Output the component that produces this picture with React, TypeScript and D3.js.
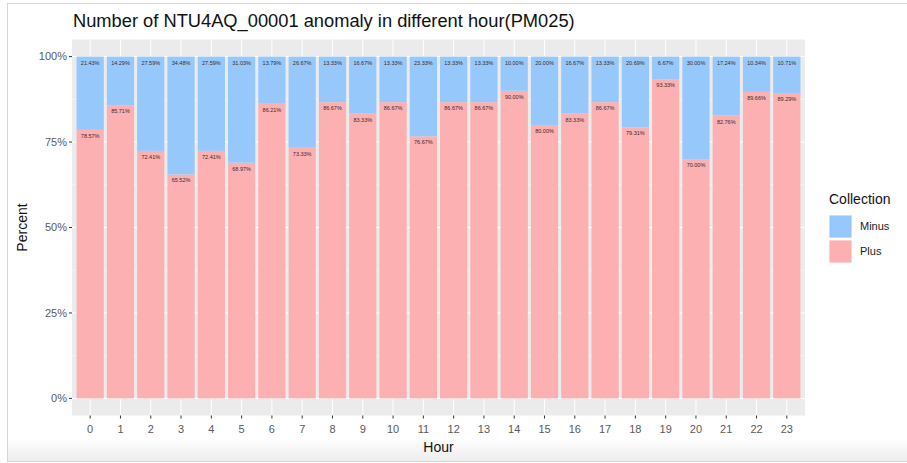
import * as d3 from "d3";
import React, { useEffect, useRef } from "react";

// hours on the x axis
const hours = [
  "0", "1", "2", "3", "4", "5", "6", "7", "8", "9", "10", "11",
  "12", "13", "14", "15", "16", "17", "18", "19", "20", "21", "22", "23",
];

// share of "Plus" per hour (%)
const plusPct = [
  78.57, 85.71, 72.41, 65.52, 72.41, 68.97, 86.21, 73.33, 86.67, 83.33, 86.67, 76.67,
  86.67, 86.67, 90.0, 80.0, 83.33, 86.67, 79.31, 93.33, 70.0, 82.76, 89.66, 89.29,
];

// share of "Minus" per hour (%)
const minusPct = [
  21.43, 14.29, 27.59, 34.48, 27.59, 31.03, 13.79, 26.67, 13.33, 16.67, 13.33, 23.33,
  13.33, 13.33, 10.0, 20.0, 16.67, 13.33, 20.69, 6.67, 30.0, 17.24, 10.34, 10.71,
];

const yTicks = [0, 25, 50, 75, 100];
const yMinor = [12.5, 37.5, 62.5, 87.5];

const legendItems = ["Minus", "Plus"];
const colors: Record<string, string> = { Minus: "#97C8FB", Plus: "#FDB0B2" };

const title = "Number of NTU4AQ_00001 anomaly in different hour(PM025)";

const W = 907;
const H = 463;

const App: React.FC = () => {
  const svgRef = useRef<SVGSVGElement>(null);

  useEffect(() => {
    if (!svgRef.current) return;
    const svg = d3.select(svgRef.current);
    svg.selectAll("*").remove();

    const font = "'Liberation Sans', Arial, Helvetica, sans-serif";
    const panel = { left: 72, right: 805, top: 39.5, bottom: 415.5 };

    // screenshot frame
    const defs = svg.append("defs");
    const grad = defs
      .append("linearGradient")
      .attr("id", "shade")
      .attr("x1", 0)
      .attr("y1", 0)
      .attr("x2", 0)
      .attr("y2", 1);
    grad.append("stop").attr("offset", "0%").attr("stop-color", "#ffffff");
    grad.append("stop").attr("offset", "100%").attr("stop-color", "#ececec");

    svg.append("rect").attr("width", W).attr("height", H).attr("fill", "#ffffff");
    svg
      .append("rect")
      .attr("x", 7)
      .attr("y", 438)
      .attr("width", W - 7)
      .attr("height", 24)
      .attr("fill", "url(#shade)");
    svg
      .append("rect")
      .attr("x", 7.5)
      .attr("y", 3.5)
      .attr("width", W)
      .attr("height", 458)
      .attr("fill", "none")
      .attr("stroke", "#d6d6d6");

    // scales (ggplot: bar width 0.9, 0.6 units of expansion each side)
    const x = d3
      .scaleBand()
      .domain(hours)
      .range([panel.left, panel.right])
      .paddingInner(0.1)
      .paddingOuter(0.15);
    const y = d3.scaleLinear().domain([-5, 105]).range([panel.bottom, panel.top]);

    // panel background + grid
    svg
      .append("rect")
      .attr("x", panel.left)
      .attr("y", panel.top)
      .attr("width", panel.right - panel.left)
      .attr("height", panel.bottom - panel.top)
      .attr("fill", "#EBEBEB");

    const grid = svg.append("g");
    yMinor.forEach((v) =>
      grid
        .append("line")
        .attr("x1", panel.left)
        .attr("x2", panel.right)
        .attr("y1", y(v))
        .attr("y2", y(v))
        .attr("stroke", "#ffffff")
        .attr("stroke-width", 0.5),
    );
    yTicks.forEach((v) =>
      grid
        .append("line")
        .attr("x1", panel.left)
        .attr("x2", panel.right)
        .attr("y1", y(v))
        .attr("y2", y(v))
        .attr("stroke", "#ffffff")
        .attr("stroke-width", 1),
    );
    hours.forEach((h) => {
      const cx = (x(h) || 0) + x.bandwidth() / 2;
      grid
        .append("line")
        .attr("x1", cx)
        .attr("x2", cx)
        .attr("y1", panel.top)
        .attr("y2", panel.bottom)
        .attr("stroke", "#ffffff")
        .attr("stroke-width", 1);
    });

    // stacked bars: Plus at bottom, Minus on top
    const rows = hours.map((h, i) => ({ hour: h, Plus: plusPct[i], Minus: minusPct[i] }));
    const stack = d3.stack<any>().keys(["Plus", "Minus"]);
    const series = stack(rows);

    const bars = svg.append("g");
    series.forEach((s) => {
      bars
        .selectAll(null)
        .data(s)
        .join("rect")
        .attr("x", (d: any) => x(d.data.hour) || 0)
        .attr("width", x.bandwidth())
        .attr("y", (d: any) => y(d[1]))
        .attr("height", (d: any) => y(d[0]) - y(d[1]))
        .attr("fill", colors[s.key]);
    });

    // value labels at the top of each segment
    const labels = svg.append("g");
    series.forEach((s) => {
      labels
        .selectAll(null)
        .data(s)
        .join("text")
        .attr("x", (d: any) => (x(d.data.hour) || 0) + x.bandwidth() / 2)
        .attr("y", (d: any) => y(d[1]) + 8)
        .attr("text-anchor", "middle")
        .style("font-family", font)
        .style("font-size", "5.5px")
        .attr("fill", "#3a2a2a")
        .text((d: any) => `${(d[1] - d[0]).toFixed(2)}%`);
    });

    // y axis
    const yAxis = svg.append("g");
    yTicks.forEach((v) => {
      yAxis
        .append("line")
        .attr("x1", panel.left - 3)
        .attr("x2", panel.left)
        .attr("y1", y(v))
        .attr("y2", y(v))
        .attr("stroke", "#333333")
        .attr("stroke-width", 1);
      yAxis
        .append("text")
        .attr("x", panel.left - 5)
        .attr("y", y(v))
        .attr("dy", "0.35em")
        .attr("text-anchor", "end")
        .style("font-family", font)
        .style("font-size", "11px")
        .attr("fill", "#5a5a5a")
        .text(`${v}%`);
    });

    // x axis
    const xAxis = svg.append("g");
    hours.forEach((h) => {
      const cx = (x(h) || 0) + x.bandwidth() / 2;
      xAxis
        .append("line")
        .attr("x1", cx)
        .attr("x2", cx)
        .attr("y1", panel.bottom)
        .attr("y2", panel.bottom + 3)
        .attr("stroke", "#333333")
        .attr("stroke-width", 1);
      xAxis
        .append("text")
        .attr("x", cx)
        .attr("y", panel.bottom + 17)
        .attr("text-anchor", "middle")
        .style("font-family", font)
        .style("font-size", "11px")
        .attr("fill", "#5a5a5a")
        .text(h);
    });

    // axis titles
    svg
      .append("text")
      .attr("x", (panel.left + panel.right) / 2)
      .attr("y", 452)
      .attr("text-anchor", "middle")
      .style("font-family", font)
      .style("font-size", "14px")
      .attr("fill", "#111111")
      .text("Hour");
    svg
      .append("text")
      .attr("transform", `translate(27,${(panel.top + panel.bottom) / 2}) rotate(-90)`)
      .attr("text-anchor", "middle")
      .style("font-family", font)
      .style("font-size", "14px")
      .attr("fill", "#111111")
      .text("Percent");

    // title
    svg
      .append("text")
      .attr("x", panel.left + 1)
      .attr("y", 27)
      .style("font-family", font)
      .style("font-size", "18.3px")
      .attr("fill", "#111111")
      .text(title);

    // legend
    const lg = svg.append("g").attr("transform", "translate(829,0)");
    lg.append("text")
      .attr("x", 0)
      .attr("y", 204)
      .style("font-family", font)
      .style("font-size", "14px")
      .attr("fill", "#111111")
      .text("Collection");
    legendItems.forEach((k, i) => {
      const ky = 215 + i * 25;
      lg.append("rect")
        .attr("x", 0)
        .attr("y", ky)
        .attr("width", 23)
        .attr("height", 23)
        .attr("fill", "#F2F2F2");
      lg.append("rect")
        .attr("x", 0.5)
        .attr("y", ky + 0.5)
        .attr("width", 22)
        .attr("height", 22)
        .attr("fill", colors[k]);
      lg.append("text")
        .attr("x", 31)
        .attr("y", ky + 11.5)
        .attr("dy", "0.35em")
        .style("font-family", font)
        .style("font-size", "11px")
        .attr("fill", "#222222")
        .text(k);
    });
  }, []);

  return (
    <svg
      ref={svgRef}
      width={W}
      height={H}
      style={{ position: "absolute", left: 0, top: 0, display: "block" }}
    />
  );
};

export default App;
